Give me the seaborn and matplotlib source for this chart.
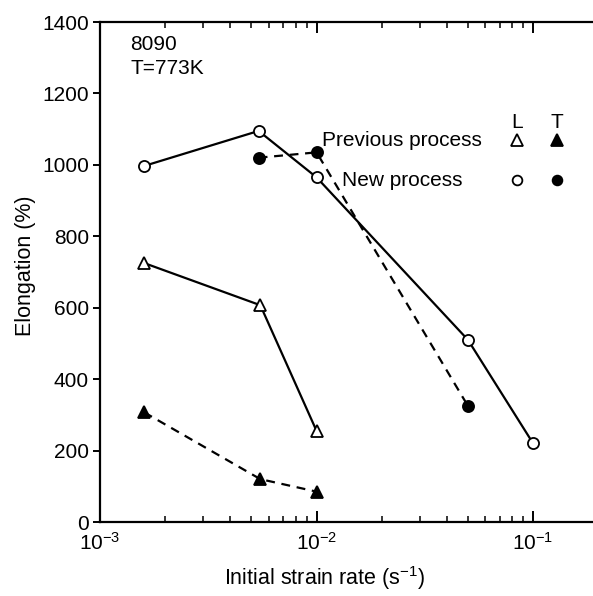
import matplotlib
matplotlib.use('Agg')
import matplotlib.pyplot as plt
import matplotlib.ticker as mticker
import seaborn as sns
import pandas as pd

# strain rates (s^-1) and elongation (%)
new_L_rate = [1.6e-3, 5.4e-3, 1.0e-2, 5.0e-2, 1.0e-1]
new_L_elong = [997, 1095, 965, 510, 220]
new_T_rate = [5.4e-3, 1.0e-2, 5.0e-2]
new_T_elong = [1020, 1035, 325]
prev_L_rate = [1.6e-3, 5.5e-3, 1.0e-2]
prev_L_elong = [725, 607, 255]
prev_T_rate = [1.6e-3, 5.5e-3, 1.0e-2]
prev_T_elong = [307, 120, 85]

series = [
    ('New L', new_L_rate, new_L_elong, 'o', 'white', '-'),
    ('New T', new_T_rate, new_T_elong, 'o', 'black', (0, (4, 3))),
    ('Prev L', prev_L_rate, prev_L_elong, '^', 'white', '-'),
    ('Prev T', prev_T_rate, prev_T_elong, '^', 'black', (0, (4, 3))),
]

sns.set_theme(style="ticks")
plt.rcParams['font.family'] = ['Liberation Sans', 'DejaVu Sans']
plt.rcParams['mathtext.fontset'] = 'custom'
plt.rcParams['mathtext.rm'] = 'Liberation Sans'
plt.rcParams['mathtext.it'] = 'Liberation Sans'
plt.rcParams['text.color'] = 'black'
plt.rcParams['axes.labelcolor'] = 'black'

fig = plt.figure(figsize=(5.93, 5.96), dpi=100)
ax = fig.add_axes([100 / 593, 74 / 596, 493 / 593, 500 / 596])

for name, x, y, m, fc, ls in series:
    df = pd.DataFrame({'rate': x, 'elong': y})
    sns.lineplot(data=df, x='rate', y='elong', ax=ax, color='black',
                 linewidth=1.6, linestyle=ls, marker=m, markersize=9 if m == '^' else 8,
                 markerfacecolor=fc, markeredgecolor='black', markeredgewidth=1.3,
                 sort=False, zorder=3)

ax.set_xscale('log')
ax.set_xlim(1e-3, 0.189)
ax.set_ylim(0, 1400)
ax.set_yticks(range(0, 1401, 200))
ax.xaxis.set_major_locator(mticker.FixedLocator([1e-3, 1e-2, 1e-1]))
ax.xaxis.set_minor_locator(mticker.LogLocator(base=10, subs=range(2, 10), numticks=20))
ax.xaxis.set_minor_formatter(mticker.NullFormatter())
ax.set_xticklabels([r'$10^{-3}$', r'$10^{-2}$', r'$10^{-1}$'])

for side in ['left', 'bottom', 'top']:
    ax.spines[side].set_linewidth(1.6)
    ax.spines[side].set_color('black')
ax.spines['right'].set_visible(False)

ax.tick_params(axis='y', direction='out', length=5, width=1.4, labelsize=15, pad=3, colors='black')
ax.tick_params(axis='x', which='major', direction='in', length=8, width=1.4,
               top=True, labelsize=15, pad=7, colors='black')
ax.tick_params(axis='x', which='minor', direction='in', length=4, width=1.1, top=True, colors='black')

ax.set_xlabel('Initial strain rate (s$^{-1}$)', fontsize=15.5)
ax.set_ylabel('Elongation (%)', fontsize=15.5)
ax.xaxis.set_label_coords(0.456, -0.084)
ax.yaxis.set_label_coords(-0.13, 0.512)

ax.text(0.061, 0.954, '8090', transform=ax.transAxes, fontsize=15, va='center', ha='left')
ax.text(0.061, 0.908, 'T=773K', transform=ax.transAxes, fontsize=15, va='center', ha='left')

# legend drawn as a small table
ax.text(0.846, 0.80, 'L', transform=ax.transAxes, fontsize=15, va='center', ha='center')
ax.text(0.926, 0.80, 'T', transform=ax.transAxes, fontsize=15, va='center', ha='center')
ax.text(0.450, 0.762, 'Previous process', transform=ax.transAxes, fontsize=15, va='center', ha='left')
ax.text(0.491, 0.682, 'New process', transform=ax.transAxes, fontsize=15, va='center', ha='left')
ax.plot([0.846], [0.764], marker='^', ms=8, mfc='white', mec='black', mew=1.3,
        transform=ax.transAxes, clip_on=False)
ax.plot([0.926], [0.764], marker='^', ms=8, mfc='black', mec='black', mew=1.3,
        transform=ax.transAxes, clip_on=False)
ax.plot([0.846], [0.684], marker='o', ms=7, mfc='white', mec='black', mew=1.3,
        transform=ax.transAxes, clip_on=False)
ax.plot([0.926], [0.684], marker='o', ms=7, mfc='black', mec='black', mew=1.3,
        transform=ax.transAxes, clip_on=False)

fig.savefig('out.png', dpi=100, facecolor='white')
